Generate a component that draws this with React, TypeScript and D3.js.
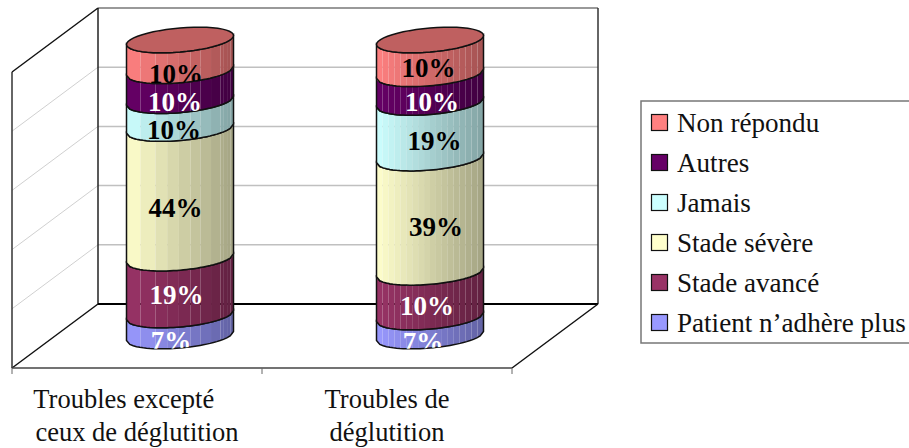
import * as d3 from "d3";

// bottom to top, as stacked in the chart
const seriesNames = ["Patient n’adhère plus", "Stade avancé", "Stade sévère", "Jamais", "Autres", "Non répondu"];
const seriesColors = ["#9999ff", "#993366", "#ffffcc", "#ccffff", "#660066", "#ff8080"];
const labelColors = ["#fff", "#fff", "#000", "#000", "#fff", "#000"];

const categories = [
  ["Troubles excepté\u00a0\u00a0\u00a0\u00a0", "ceux de déglutition"],
  ["Troubles de", "déglutition"],
];
// segment heights read off the picture, and the printed labels (they don't quite agree)
const heightsFirst = [7.1, 19.2, 43.8, 9.4, 10.1, 10.4];
const heightsSecond = [6.4, 15.1, 38.6, 18.8, 9.7, 11.4];
const labelsFirst = ["7%", "19%", "44%", "10%", "10%", "10%"];
const labelsSecond = ["7%", "10%", "39%", "19%", "10%", "10%"];
const yTicks = [0, 20, 40, 60, 80, 100];

// facet edges of each cylinder, as fraction of its width
const facetsFirst = [0, 0.13, 0.27, 0.38, 0.49, 0.6, 0.69, 0.79, 0.88, 0.91, 0.94, 0.97, 1];
const facetsSecond = d3.range(19).map((i) => i / 18);

// label placement is a bit loose in the original
const nudgeFirst = [[-9, 2], [-3.5, -4.5], [-4.5, 1], [-6, 2], [-5, 3], [-4, 5]];
const nudgeSecond = [[-7, 2], [-3, -2], [6, -1], [4.5, -2], [2, 1], [-1.5, -2]];

const FONT = "'Liberation Serif', 'Times New Roman', serif";
const depth = { dx: -86, dy: 64 };
const radius = 53.5;
const ryFront = 12;
const tilt = 4.5;

const x = d3.scaleBand<number>().domain([0, 1]).range([12, 512]);
const y = d3.scaleLinear().domain([0, 100]).range([304, 8]);

const rows = [0, 1].map((c) => {
  const src = c === 0 ? heightsFirst : heightsSecond;
  return Object.fromEntries(seriesNames.map((n, i) => [n, src[i]]));
});
const stacked = d3.stack<any>().keys(seriesNames)(rows);

const outline = d3.line<[number, number]>();

// point on the front edge of the tilted ellipse, f goes 0..1 left to right
function front(cx: number, cy: number, f: number): [number, number] {
  const u = 2 * f - 1;
  return [cx + radius * u, cy - tilt * u + ryFront * Math.sqrt(Math.max(0, 1 - u * u))];
}

function frontCurve(cx: number, cy: number, f0: number, f1: number, n = 8) {
  return d3.range(n + 1).map((i) => front(cx, cy, f0 + ((f1 - f0) * i) / n));
}

function capPath(cx: number, cy: number) {
  const pts = d3.range(49).map((i) => {
    const t = (i / 48) * 2 * Math.PI;
    return [
      cx + radius * Math.cos(t),
      cy - tilt * Math.cos(t) + ryFront * Math.sin(t),
    ] as [number, number];
  });
  return outline(pts) + "Z";
}

function darker(color: string, k: number) {
  const c = d3.rgb(color);
  return d3.rgb(c.r * k, c.g * k, c.b * k).formatHex();
}

function Cylinder({ col }: { col: number }) {
  const cx = x(col)! + x.bandwidth() / 2 + depth.dx / -2;
  const cyOf = (v: number) => y(v) + depth.dy / 2;
  const facets = col === 0 ? facetsFirst : facetsSecond;
  const labels = col === 0 ? labelsFirst : labelsSecond;
  const nudges = col === 0 ? nudgeFirst : nudgeSecond;

  return (
    <g>
      {stacked.map((layer, i) => {
        const [v0, v1] = layer[col];
        const yLow = cyOf(v0);
        const yHigh = cyOf(v1);
        const shade = d3
          .scaleLinear<string>()
          .domain([0, 1])
          .range([seriesColors[i], darker(seriesColors[i], 0.64)]);
        const sidePath =
          outline([...frontCurve(cx, yHigh, 0, 1, 32), ...frontCurve(cx, yLow, 0, 1, 32).reverse()]) + "Z";
        const clipId = `seg-${col}-${i}`;
        const labelY = cyOf((v0 + v1) / 2) + 13 + nudges[i][1];
        return (
          <g key={i}>
            <clipPath id={clipId}>
              <path d={sidePath} />
            </clipPath>
            {d3.pairs(facets).map(([f0, f1], k) => (
              <path
                key={k}
                d={outline([...frontCurve(cx, yHigh, f0, f1), ...frontCurve(cx, yLow, f0, f1).reverse()]) + "Z"}
                fill={shade((f0 + f1) / 2)}
              />
            ))}
            <path d={sidePath} fill="none" stroke="#111" strokeWidth={1.5} />
            <text
              clipPath={`url(#${clipId})`}
              x={cx + nudges[i][0]}
              y={labelY}
              dy="0.34em"
              textAnchor="middle"
              fontFamily={FONT}
              fontWeight="bold"
              fontSize={27}
              fill={labelColors[i]}
            >
              {labels[i]}
            </text>
          </g>
        );
      })}
      <path d={capPath(cx, cyOf(100))} fill={darker(seriesColors[5], 0.75)} stroke="#111" strokeWidth={1.5} />
    </g>
  );
}

export default function App() {
  const left = 98;
  const right = 598;
  const legendY = d3.scalePoint<string>().domain([...seriesNames].reverse()).range([123, 323]);

  return (
    <svg width={909} height={448} style={{ position: "absolute", left: 0, top: 0, display: "block" }}>
      {/* gridlines on back and side wall */}
      {yTicks.slice(1, -1).map((t) => (
        <g key={t} fill="none">
          <line x1={left} x2={right} y1={y(t)} y2={y(t)} stroke="#c0c0c0" strokeWidth={1.5} />
          <line x1={left} y1={y(t)} x2={left + depth.dx} y2={y(t) + depth.dy} stroke="#d0d0d0" strokeWidth={1} />
        </g>
      ))}

      {/* walls */}
      <line x1={left} x2={right} y1={y(100)} y2={y(100)} stroke="#777" strokeWidth={1.5} />
      <line x1={right} x2={right} y1={y(100)} y2={y(0)} stroke="#333" strokeWidth={1.5} />
      <line x1={left} x2={left} y1={y(100)} y2={y(0)} stroke="#222" strokeWidth={1.5} />
      <line x1={left + depth.dx} x2={left + depth.dx} y1={y(100) + depth.dy} y2={y(0) + depth.dy} stroke="#333" strokeWidth={1.5} />
      <line x1={left} y1={y(100)} x2={left + depth.dx} y2={y(100) + depth.dy} stroke="#111" strokeWidth={1.5} />

      {/* floor */}
      <line x1={left} x2={right} y1={y(0)} y2={y(0)} stroke="#000" strokeWidth={2} />
      <line x1={left} y1={y(0)} x2={left + depth.dx} y2={y(0) + depth.dy} stroke="#111" strokeWidth={1.5} />
      <line x1={right} y1={y(0)} x2={right + depth.dx} y2={y(0) + depth.dy} stroke="#111" strokeWidth={1.5} />
      <line x1={left + depth.dx} x2={right + depth.dx} y1={y(0) + depth.dy} y2={y(0) + depth.dy} stroke="#444" strokeWidth={1.5} />
      {[12, x(1)!, 512].map((tx) => (
        <line key={tx} x1={tx} x2={tx} y1={y(0) + depth.dy} y2={y(0) + depth.dy + 6} stroke="#666" strokeWidth={1} />
      ))}

      <Cylinder col={0} />
      <Cylinder col={1} />

      {/* category labels */}
      {categories.map((lines, c) => (
        <g key={c} fontFamily={FONT} fontSize={26.5} fill="#111" textAnchor="middle">
          {lines.map((s, j) => (
            <text key={j} x={x(c)! + x.bandwidth() / 2} y={408 + j * 33}>
              {s}
            </text>
          ))}
        </g>
      ))}

      {/* legend */}
      <path d="M909,101H641V343H909" fill="none" stroke="#777" strokeWidth={1.5} />
      {[...seriesNames].reverse().map((name) => (
        <g key={name}>
          <rect
            x={651.5}
            y={legendY(name)! - 8.5}
            width={16}
            height={16}
            fill={seriesColors[seriesNames.indexOf(name)]}
            stroke="#111"
            strokeWidth={1.2}
          />
          <text x={677} y={legendY(name)! + 9} fontFamily={FONT} fontSize={27.1} fill="#111">
            {name}
          </text>
        </g>
      ))}
    </svg>
  );
}
